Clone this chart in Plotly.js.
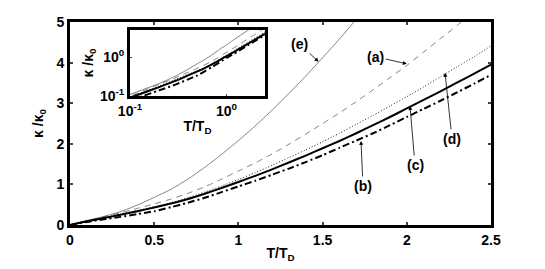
<!DOCTYPE html>
<html>
<head>
<meta charset="utf-8">
<script src="https://cdn.plot.ly/plotly-3.0.1.min.js"></script>
<style>html,body{margin:0;padding:0;background:#fff;}#chart{width:545px;height:269px;}</style>
</head>
<body>
<div id="chart"></div>
<script>
// T/T_D sample points
var T = [0,0.1,0.2,0.3,0.4,0.5,0.6,0.7,0.8,0.9,1.0,1.1,1.2,1.3,1.4,1.5,1.6,1.7,1.8,1.9,2.0,2.1,2.2,2.3,2.4,2.5];
// (a) thin dashed
var curveA = [0,0.10,0.20,0.30,0.41,0.52,0.64,0.78,0.94,1.13,1.33,1.53,1.75,1.99,2.24,2.50,2.76,3.04,3.33,3.63,3.93,4.26,4.59,4.92,5.27,5.62];
// (b) thick dash-dot
var curveB = [0,0.076,0.14,0.20,0.27,0.34,0.44,0.55,0.67,0.81,0.95,1.09,1.24,1.39,1.55,1.72,1.90,2.08,2.26,2.46,2.66,2.86,3.06,3.27,3.48,3.70];
// (c) thick solid
var curveC = [0,0.09,0.17,0.25,0.34,0.43,0.53,0.64,0.77,0.91,1.06,1.21,1.37,1.54,1.71,1.89,2.07,2.26,2.46,2.66,2.87,3.08,3.29,3.51,3.73,3.95];
// (d) dotted
var curveD = [0,0.095,0.18,0.27,0.36,0.45,0.55,0.67,0.81,0.96,1.12,1.29,1.47,1.66,1.85,2.05,2.26,2.48,2.70,2.93,3.16,3.40,3.65,3.90,4.15,4.41];
// (e) thin solid
var Te = [0,0.1,0.2,0.3,0.4,0.5,0.6,0.7,0.8,0.9,1.0,1.1,1.2,1.3,1.4,1.5,1.6,1.7,1.8];
var curveE = [0,0.11,0.21,0.33,0.49,0.68,0.88,1.13,1.42,1.74,2.08,2.44,2.83,3.24,3.67,4.12,4.58,5.07,5.58];

var xTicks = [0,0.5,1,1.5,2,2.5];
var xTickText = ['0','0.5','1','1.5','2','2.5'];
var yTicks = [0,1,2,3,4,5];
var insetTicks = [0.1,1];
var insetTickText = ['10<sup>-1</sup>','10<sup>0</sup>'];

var labels = ['(e)','(a)','(d)','(c)','(b)'];
var labelX = [1.476,2.0,2.227,2.019,1.728];
var labelY = [4.02,3.97,3.75,2.93,2.07];
var labelAX = [-19,-31,7,5,2];
var labelAY = [-18,-7,66,59,45];

var F = {family:'Liberation Sans, Arial, Helvetica, sans-serif', size:14, color:'#000', weight:'bold'};

function lineStyles(xa, ya){
  return [
    {x:T, y:curveA, xaxis:xa, yaxis:ya, mode:'lines', line:{color:'#333', width:0.6, dash:'6px,5px'}, hoverinfo:'skip'},
    {x:T, y:curveD, xaxis:xa, yaxis:ya, mode:'lines', line:{color:'#222', width:1, dash:'1px,2px'}, hoverinfo:'skip'},
    {x:Te, y:curveE, xaxis:xa, yaxis:ya, mode:'lines', line:{color:'#333', width:0.6}, hoverinfo:'skip'},
    {x:T, y:curveC, xaxis:xa, yaxis:ya, mode:'lines', line:{color:'#000', width:2}, hoverinfo:'skip'},
    {x:T, y:curveB, xaxis:xa, yaxis:ya, mode:'lines', line:{color:'#000', width:2, dash:'7px,3px,2px,3px'}, hoverinfo:'skip'}
  ];
}
function smoothTraces(arr){ arr.forEach(function(t){ t.line.shape='spline'; t.line.smoothing=0.6; }); return arr; }

var data = smoothTraces(lineStyles('x','y')).concat(smoothTraces(lineStyles('x2','y2')));

var annotations = labels.map(function(t,i){
  return {x:labelX[i], y:labelY[i], xref:'x', yref:'y', text:t, showarrow:true,
    ax:labelAX[i], ay:labelAY[i], arrowhead:2, arrowsize:1, arrowwidth:0.8, arrowcolor:'#000',
    font:F, standoff:0, startstandoff:0};
});

var layout = {
  width:545, height:269,
  margin:{l:70, r:54, t:22, b:44},
  paper_bgcolor:'#fff', plot_bgcolor:'#fff',
  showlegend:false,
  font:F,
  xaxis:{domain:[0,1], range:[0,2.5], tickvals:xTicks, ticktext:xTickText, ticks:'inside', ticklen:3, tickwidth:2,
    showline:true, linewidth:3, linecolor:'#000', mirror:'ticks', showgrid:false, zeroline:false,
    tickfont:F, title:{text:'T/T<sub>D</sub>', font:F, standoff:2}},
  yaxis:{domain:[0,1], range:[0,5], tickvals:yTicks, ticks:'inside', ticklen:3, tickwidth:2,
    showline:true, linewidth:3, linecolor:'#000', mirror:'ticks', showgrid:false, zeroline:false,
    tickfont:F, title:{text:'κ /κ<sub>0</sub>', font:F, standoff:10}},
  xaxis2:{domain:[0.1425,0.463], anchor:'y2', type:'log', range:[-1,Math.log10(2.5)], tickvals:insetTicks, ticktext:insetTickText,
    ticks:'inside', ticklen:2, tickwidth:1, showline:true, linewidth:3, linecolor:'#000', mirror:true, showgrid:false, zeroline:false,
    tickfont:F, title:{text:'T/T<sub>D</sub>', font:F, standoff:4}},
  yaxis2:{domain:[0.635,0.961], anchor:'x2', type:'log', range:[-1,Math.log10(5)], tickvals:insetTicks, ticktext:insetTickText,
    ticks:'inside', ticklen:2, tickwidth:1, showline:true, linewidth:3, linecolor:'#000', mirror:true, showgrid:false, zeroline:false,
    tickfont:F, title:{text:'κ /κ<sub>0</sub>', font:F, standoff:3}},
  annotations:annotations
};

Plotly.newPlot('chart', data, layout, {staticPlot:true, displayModeBar:false});
</script>
</body>
</html>
